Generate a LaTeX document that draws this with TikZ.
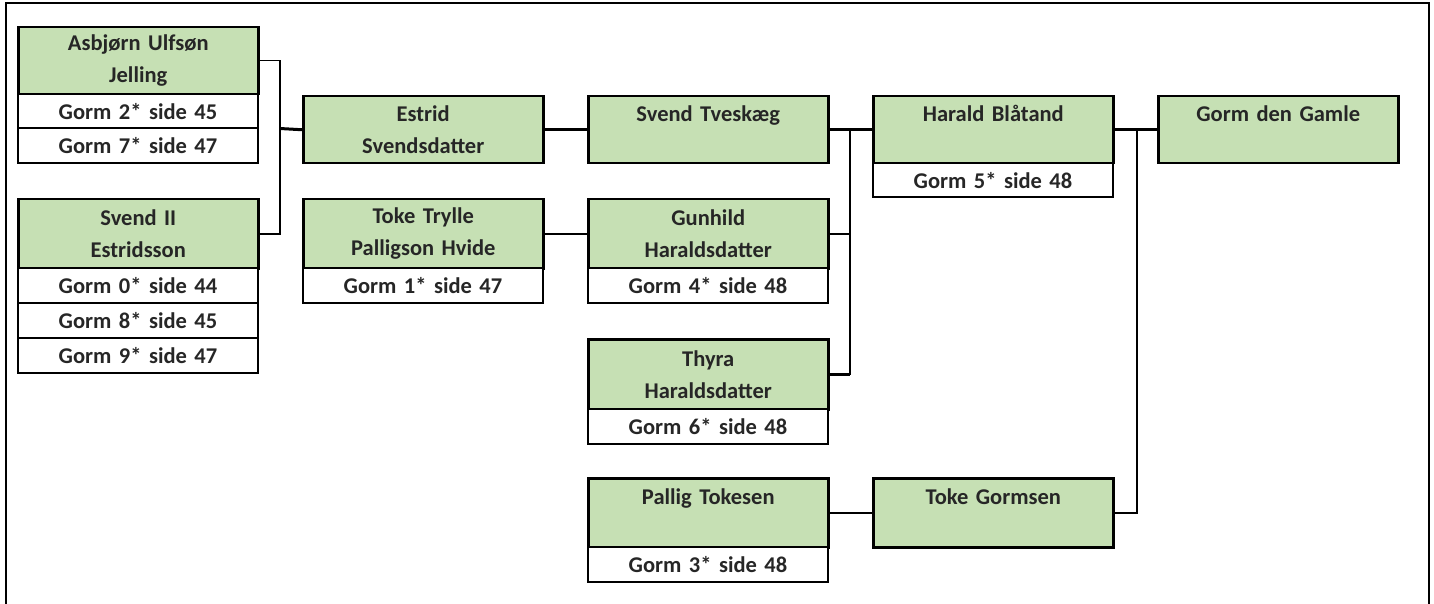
\documentclass[tikz,border=0pt]{standalone}
\usepackage{fontspec}
\setmainfont{Carlito}
\definecolor{boxgreen}{HTML}{C6E0B4}
\definecolor{txt}{HTML}{262626}
\tikzset{
  base/.style={draw=black, anchor=north west, minimum width=240pt, text width=232pt,
    align=center, inner sep=0pt, text=txt,
    font=\fontsize{22.5}{32}\selectfont\bfseries},
  namebox/.style={base, fill=boxgreen, line width=2.5pt, minimum height=#1},
  namebox/.default=67pt,
  rowbox/.style={base, fill=white, line width=2pt, minimum height=34.5pt},
  thin line/.style={line width=1.5pt},
  thick line/.style={line width=3pt},
}
\begin{document}
\begin{tikzpicture}[x=1pt,y=-1pt]
\useasboundingbox (0,0) rectangle (1434,604);
\fill[white] (0,0) rectangle (1434,604);
\draw[line width=2pt] (6,3) rectangle (1429,612);

% column 1
\node[namebox] (asb) at (17,26) {Asbjørn Ulfsøn\\Jelling};
\node[rowbox] (asb1) at (17,93) {Gorm 2* side 45};
\node[rowbox] (asb2) at (17,127.5) {Gorm 7* side 47};

\node[namebox=69pt] (sv2) at (17,198) {Svend II\\Estridsson};
\node[rowbox] (sv21) at (17,267) {Gorm 0* side 44};
\node[rowbox] (sv22) at (17,302) {Gorm 8* side 45};
\node[rowbox] (sv23) at (17,337) {Gorm 9* side 47};

% column 2
\node[namebox] (est) at (302,95) {Estrid\\Svendsdatter};
\node[namebox=69pt] (tok) at (302,198) {Toke Trylle\\Palligson Hvide};
\node[rowbox] (tok1) at (302,267) {Gorm 1* side 47};

% column 3
\node[namebox] (svt) at (587,95) {Svend Tveskæg\\\mbox{}};
\node[namebox=69pt] (gun) at (587,198) {Gunhild\\Haraldsdatter};
\node[rowbox] (gun1) at (587,267) {Gorm 4* side 48};
\node[namebox=70pt] (thy) at (587,338) {Thyra\\Haraldsdatter};
\node[rowbox] (thy1) at (587,408) {Gorm 6* side 48};
\node[namebox=69pt] (pal) at (587,477) {Pallig Tokesen\\\mbox{}};
\node[rowbox] (pal1) at (587,546) {Gorm 3* side 48};

% column 4
\node[namebox] (har) at (872,95) {Harald Blåtand\\\mbox{}};
\node[rowbox] (har1) at (872,162) {Gorm 5* side 48};
\node[namebox=69pt] (tgm) at (872,477) {Toke Gormsen\\\mbox{}};

% column 5
\node[namebox] (gdg) at (1157,95) {Gorm den Gamle\\\mbox{}};

% junctions
\coordinate (j1) at (280,128.5);
\coordinate (j2) at (850,128.5);
\coordinate (j3) at (1137,128.5);

% connectors
\draw[thin line] (asb.east) -| (j1) |- (sv2.east);
\draw[thick line] (j1) -- (est.west);
\draw[thick line] (est.east) -- (svt.west);
\draw[thin line] (tok.east) -- (gun.west);
\draw[thick line] (svt.east) -- (har.west);
\draw[thin line] (j2) |- (thy.east);
\draw[thick line] (thy.east) -- (thy.east -| j2);
\draw[thin line] (gun.east) -- (gun.east -| j2);
\draw[thick line] (har.east) -- (gdg.west);
\draw[thin line] (j3) |- (tgm.east);
\draw[thin line] (pal.east) -- (tgm.west);
\end{tikzpicture}
\end{document}
